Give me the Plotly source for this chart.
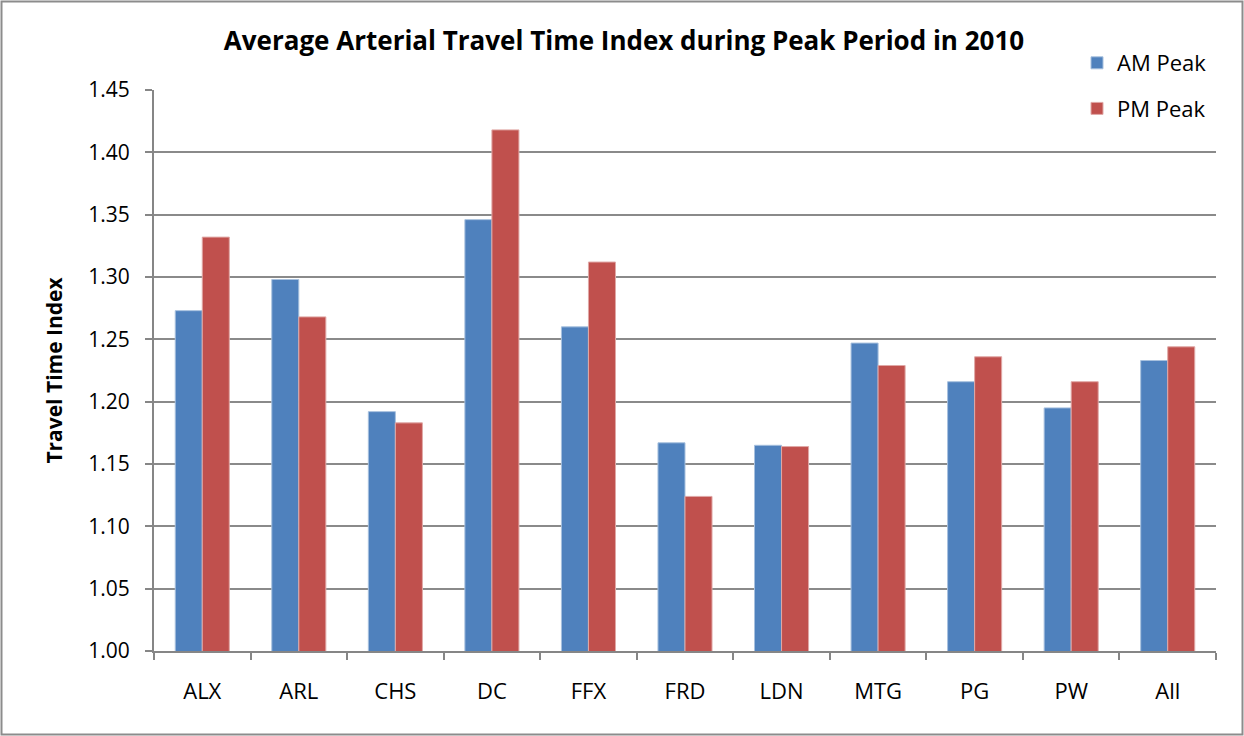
import plotly.graph_objects as go

# Regions and average arterial travel time index (2010)
regions = ["ALX", "ARL", "CHS", "DC", "FFX", "FRD", "LDN", "MTG", "PG", "PW", "All"]
am_peak = [1.273, 1.298, 1.192, 1.346, 1.260, 1.167, 1.165, 1.247, 1.216, 1.195, 1.233]
pm_peak = [1.332, 1.268, 1.183, 1.418, 1.312, 1.124, 1.164, 1.229, 1.236, 1.216, 1.244]
y_ticks = [1.00, 1.05, 1.10, 1.15, 1.20, 1.25, 1.30, 1.35, 1.40, 1.45]

W, H = 1244, 736
ML, MR, MT, MB = 154, 28, 90, 85
PW_, PH_ = W - ML - MR, H - MT - MB

FONT = "'Open Sans', 'Liberation Sans', sans-serif"

fig = go.Figure()
fig.add_trace(go.Bar(
    x=regions, y=am_peak, name="AM Peak", legendgroup="am",
    marker=dict(color="#4F81BD", line=dict(color="#A7C0DE", width=1)),
))
fig.add_trace(go.Bar(
    x=regions, y=pm_peak, name="PM Peak", legendgroup="pm",
    marker=dict(color="#C0504D", line=dict(color="#E0A8A6", width=1)),
))

def px_x(p):
    return (p - ML) / PW_

def px_y(p):
    return (H - MB - p) / PH_

fig.update_layout(
    width=W, height=H,
    margin=dict(l=ML, r=MR, t=MT, b=MB),
    paper_bgcolor="white", plot_bgcolor="white",
    font=dict(family=FONT, size=21, color="black"),
    barmode="group", bargap=0.44, bargroupgap=0,
    title=dict(
        text="<b>Average Arterial Travel Time Index during Peak Period in 2010</b>",
        x=624 / W, xanchor="center", y=1 - 41 / H, yanchor="middle",
        font=dict(family=FONT, size=26, color="black"),
    ),
    legend=dict(
        x=px_x(1077), y=px_y(42), xanchor="left", yanchor="top",
        bgcolor="white", font=dict(size=22),
        tracegroupgap=14, itemwidth=30,
    ),
    xaxis=dict(
        showline=True, linecolor="#868686", linewidth=2,
        ticks="outside", tickson="boundaries", ticklen=7, tickcolor="#868686",
        tickwidth=2, tickfont=dict(size=22), ticklabelstandoff=20,
    ),
    yaxis=dict(
        range=[1.0, 1.45], tickvals=y_ticks, tickformat=".2f",
        showline=True, linecolor="#868686", linewidth=2,
        ticks="outside", ticklen=7, tickcolor="#868686", tickwidth=2,
        showgrid=True, gridcolor="#8A8A8A", gridwidth=2,
        tickfont=dict(size=21), zeroline=False, ticklabelstandoff=11,
        title=dict(text="<b>Travel Time Index</b>", font=dict(size=21), standoff=20),
    ),
    shapes=[dict(
        type="rect", xref="paper", yref="paper",
        x0=px_x(1.5), x1=px_x(W - 1.5), y0=px_y(H - 1.5), y1=px_y(1.5),
        line=dict(color="#8C8C8C", width=2), layer="below",
    )],
)

fig.write_html("out.html")
